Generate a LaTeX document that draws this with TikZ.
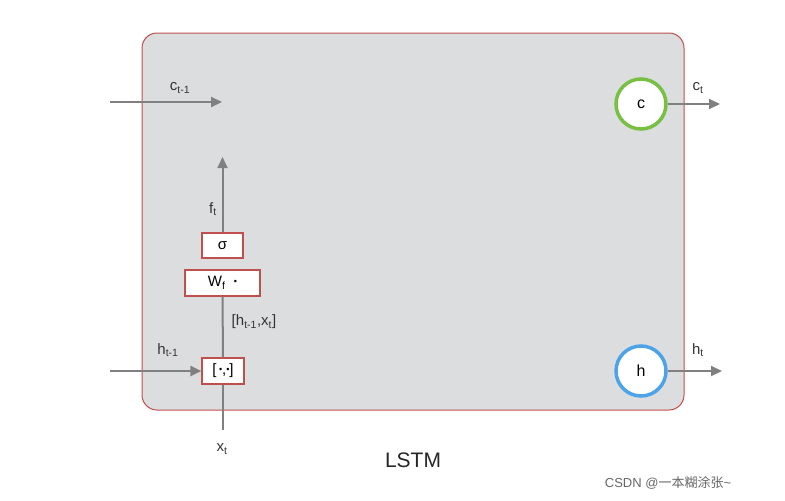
\documentclass[tikz,border=0pt]{standalone}
\usepackage{fontspec}
\setmainfont{Liberation Sans}
\newfontfamily\cjk{Noto Sans CJK SC}
\usetikzlibrary{arrows.meta}
\definecolor{boxfill}{HTML}{DCDDDE}
\definecolor{boxred}{HTML}{C0504D}
\definecolor{lgray}{HTML}{808080}
\definecolor{cgreen}{HTML}{77C043}
\definecolor{hblue}{HTML}{4DA3E8}
\begin{document}
\begin{tikzpicture}[x=1pt,y=-1pt,
  arr/.style={draw=lgray,line width=2pt,-{Triangle[length=11pt,width=10pt]}},
  ln/.style={draw=lgray,line width=2pt},
  op/.style={draw=boxred,fill=white,line width=1.2pt,inner sep=0pt,font=\fontsize{15}{15}\selectfont},
  circ/.style={circle,fill=white,line width=3.5pt,minimum size=50pt,inner sep=0pt,font=\fontsize{16}{16}\selectfont},
  lab/.style={font=\fontsize{15}{15}\selectfont,text=black!80}]
\useasboundingbox (0,0) rectangle (785,501);
\node[draw=boxred,fill=boxfill,rounded corners=15pt,line width=1pt,minimum width=542pt,minimum height=377pt,inner sep=0pt] (main) at (413,221.5) {};
% c path
\coordinate (cin) at (110,102);
\coordinate (cend) at (222,102);
\draw[arr] (cin) -- (cend);
\node[lab] at (180,88) {c\textsubscript{t-1}};
\node[circ,draw=cgreen] (c) at (641,104) {c};
\coordinate (cout) at (720,104);
\draw[arr] (c) -- (cout);
\node[lab] at (698,88) {c\textsubscript{t}};
% h path
\node[circ,draw=hblue] (h) at (641,371) {h};
\coordinate (hout) at (722,371);
\draw[arr] (h) -- (hout);
\node[lab] at (698,350) {h\textsubscript{t}};
% gate
\node[op,minimum width=42pt,minimum height=26pt] (cat) at (223,371) {[\,\raisebox{0.25ex}{\scalebox{0.6}{\textbullet}},\raisebox{0.25ex}{\scalebox{0.6}{\textbullet}}]};
\node[op,minimum width=75pt,minimum height=26pt] (W) at (222.5,283) {W\textsubscript{f}\ \ \raisebox{0.25ex}{\scalebox{0.6}{\textbullet}}};
\node[op,minimum width=41pt,minimum height=25pt] (sig) at (222.5,245.5) {σ};
\coordinate (hin) at (110,371);
\draw[arr] (hin) -- (cat);
\node[lab] at (168,350) {h\textsubscript{t-1}};
\coordinate (xb) at (223,430);
\draw[ln] (xb) -- (cat);
\draw[ln] (cat) -- (W);
\coordinate (ftop) at (222.5,157);
\draw[arr] (sig) -- (ftop);
\node[lab] at (254,322) {[h\textsubscript{t-1},x\textsubscript{t}]};
\node[lab] at (213,209) {f\textsubscript{t}};
\node[lab] at (222,449) {x\textsubscript{t}};
\node[font=\fontsize{21}{21}\selectfont,text=black!85] at (413,460) {LSTM};
\node[font=\fontsize{13}{13}\selectfont,text=black!60] at (668,483) {CSDN @{\cjk 一本糊涂张}\textasciitilde};
\end{tikzpicture}
\end{document}
